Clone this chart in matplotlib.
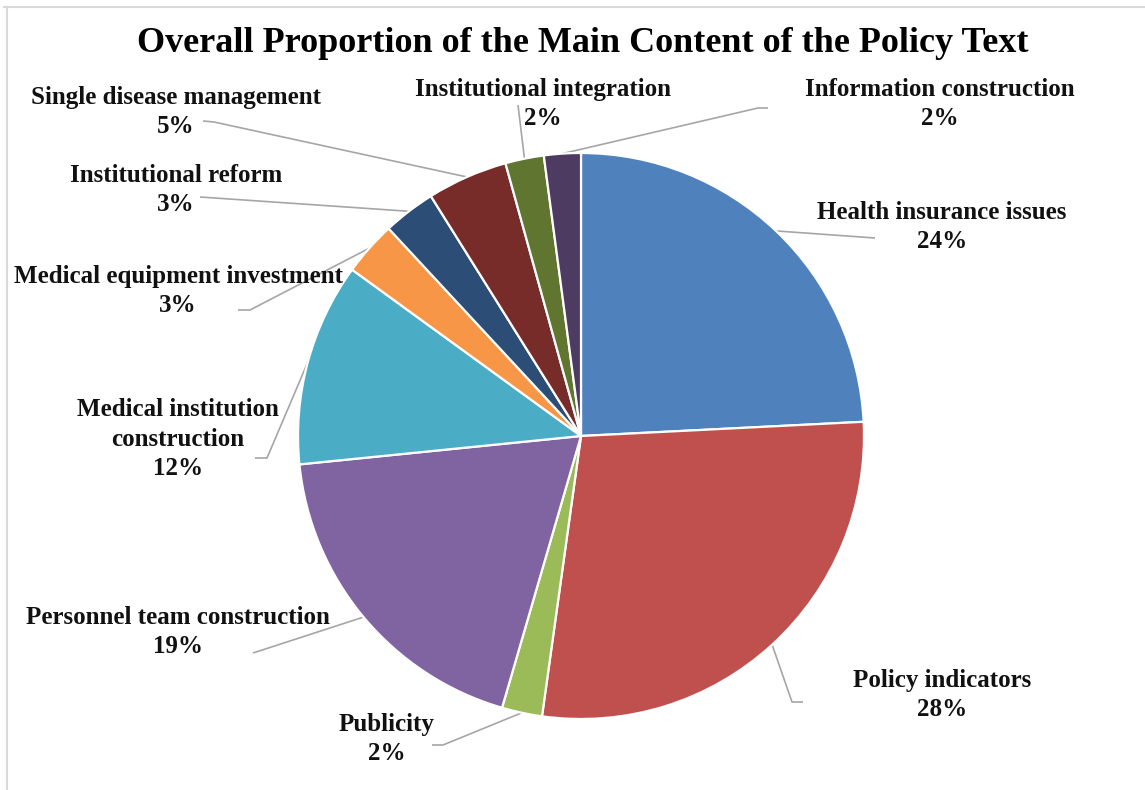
import matplotlib
matplotlib.use("Agg")
import matplotlib.pyplot as plt
import numpy as np

# ---- data ----
categories = ["Health insurance issues", "Policy indicators", "Publicity",
              "Personnel team construction", "Medical institution\nconstruction",
              "Medical equipment investment", "Institutional reform",
              "Single disease management", "Institutional integration",
              "Information construction"]
shares = [24.2, 28.0, 2.3, 18.9, 11.6, 3.1, 3.0, 4.6, 2.2, 2.1]
colors = ["#4F81BD", "#C0504D", "#9BBB59", "#8064A2", "#4BACC6",
          "#F79646", "#2C4D75", "#772C2A", "#5F7530", "#4D3B62"]
title = "Overall Proportion of the Main Content of the Policy Text"

# ---- layout (pixel positions in a 1145x790 canvas) ----
W, H = 1145, 790
CX, CY, R = 581, 436, 283
label_pos = [(942, 227), (942, 695), (387, 739), (178, 632), (178, 439),
             (178, 291), (176, 190), (176, 112), (543, 104), (940, 104)]
# leader line label-side points (start, optional knee)
leader_pts = [[(875, 238)], [(803, 702), (792, 702)], [(432, 745), (443, 745)],
              [(253, 653)], [(255, 458), (267, 458)], [(238, 310), (250, 310)],
              [(200, 197)], [(203, 121), (214, 122)], [(518, 105)],
              [(768, 108), (758, 108)]]

def d(p):
    return ((p[0] - CX) / R, (CY - p[1]) / R)

fig = plt.figure(figsize=(W / 100, H / 100), dpi=100)
ax = fig.add_axes([0, 0, 1, 1])
wedges, _ = ax.pie(shares, colors=colors, startangle=90, counterclock=False,
                   radius=1.0, wedgeprops=dict(edgecolor="white", linewidth=1.6))
ax.set_xlim(-CX / R, (W - CX) / R)
ax.set_ylim(-(H - CY) / R, CY / R)
ax.set_aspect("equal", adjustable="datalim")
ax.axis("off")

font = dict(family="Liberation Serif", fontweight="bold")

for i, (w, name) in enumerate(zip(wedges, categories)):
    pct = f"{round(shares[i])}%"
    lx, ly = d(label_pos[i])
    ax.text(lx, ly, f"{name}\n{pct}", ha="center", va="center",
            fontsize=18, linespacing=1.35, color="#111111", **font)
    mid = np.deg2rad((w.theta1 + w.theta2) / 2)
    end = (np.cos(mid), np.sin(mid))
    pts = [d(p) for p in leader_pts[i]] + [end]
    xs, ys = zip(*pts)
    ax.plot(xs, ys, color="#A6A6A6", lw=1.2, zorder=0.5, solid_capstyle="butt")

tx, ty = d((583, 43))
ax.text(tx, ty, title, ha="center", va="center", fontsize=26, **font)

# light frame lines
fig.add_artist(plt.Line2D([4 / W, 1], [1 - 7 / H, 1 - 7 / H], color="#D9D9D9", lw=1.5))
fig.add_artist(plt.Line2D([7 / W, 7 / W], [0, 1 - 7 / H], color="#D9D9D9", lw=1.5))

fig.savefig("out.png", dpi=100, facecolor="white")
